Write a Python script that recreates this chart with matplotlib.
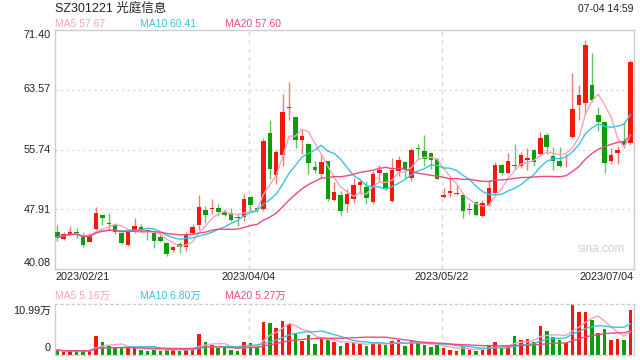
import numpy as np
import pandas as pd
import matplotlib
matplotlib.use("Agg")
import matplotlib.pyplot as plt
import matplotlib.transforms as mtransforms

plt.rcParams['font.family'] = ['Liberation Sans', 'Noto Sans CJK SC', 'DejaVu Sans']

# daily candles, 2023/02/21 .. 2023/07/04 (90 trading days)
opens  = [44.87, 44.00, 44.65, 44.99, 44.30, 43.65, 45.30, 47.13, 46.09, 45.82,
          44.78, 43.26, 44.95, 45.52, 45.20, 44.78, 44.30, 43.47, 42.60, 43.34,
          42.90, 44.78, 45.87, 47.82, 47.91, 48.04, 47.60, 47.39, 46.82, 46.90,
          49.56, 48.13, 47.91, 57.92, 52.39, 55.00, 61.20, 60.00, 57.05, 56.52,
          53.44, 52.48, 54.22, 49.13, 49.78, 48.56, 49.22, 51.04, 50.87, 48.87,
          52.60, 52.70, 49.00, 52.91, 54.09, 52.04, 55.96, 55.50, 55.30, 54.50,
          49.47, 50.00, 49.90, 49.78, 47.80, 48.80, 47.00, 48.46, 49.99, 53.70,
          52.70, 53.75, 53.60, 54.40, 55.70, 55.15, 57.64, 54.90, 54.27, 54.70,
          57.42, 61.57, 61.88, 64.20, 60.26, 59.39, 54.27, 55.30, 56.90, 56.55]
highs  = [45.82, 44.90, 45.65, 45.50, 44.87, 44.78, 48.26, 47.13, 47.48, 46.17,
          44.95, 45.20, 46.82, 45.95, 45.20, 44.87, 44.65, 43.65, 43.13, 43.56,
          44.95, 45.95, 49.74, 48.35, 49.22, 48.56, 48.00, 48.04, 47.48, 49.87,
          49.65, 48.30, 57.26, 59.57, 55.74, 63.05, 64.57, 60.00, 58.48, 56.60,
          54.22, 55.09, 54.22, 51.48, 50.30, 50.52, 52.04, 51.82, 51.60, 52.91,
          53.70, 52.80, 54.65, 54.87, 54.09, 55.96, 56.52, 57.70, 55.40, 54.65,
          50.65, 52.18, 51.10, 50.00, 48.77, 48.90, 49.10, 51.74, 54.14, 53.90,
          55.30, 56.50, 55.45, 55.90, 55.76, 58.00, 57.85, 56.10, 56.10, 55.20,
          65.72, 64.20, 70.09, 68.34, 61.35, 59.40, 55.90, 56.20, 59.30, 67.47]
lows   = [43.78, 43.90, 44.50, 44.20, 43.00, 43.56, 45.20, 45.82, 45.20, 44.65,
          43.39, 43.13, 44.78, 44.87, 43.90, 42.82, 43.56, 41.82, 42.34, 42.17,
          42.47, 44.65, 45.20, 46.17, 47.26, 47.04, 47.04, 46.39, 45.74, 46.39,
          47.69, 47.60, 47.69, 51.91, 51.17, 53.57, 59.57, 55.96, 55.09, 52.48,
          52.70, 52.04, 49.00, 49.00, 47.04, 47.60, 48.78, 49.87, 48.56, 48.56,
          51.60, 50.40, 48.87, 52.26, 52.04, 51.60, 54.65, 53.57, 53.13, 51.82,
          49.34, 49.56, 49.80, 46.72, 47.30, 47.00, 46.90, 48.30, 49.78, 52.40,
          52.60, 53.05, 53.27, 53.05, 53.60, 55.00, 55.20, 53.05, 53.40, 53.50,
          57.30, 59.60, 60.26, 62.00, 58.17, 52.60, 53.90, 53.90, 55.90, 56.30]
closes = [44.21, 44.65, 44.95, 44.78, 43.20, 44.43, 47.39, 46.78, 46.00, 44.95,
          43.47, 45.08, 45.65, 45.20, 45.10, 43.78, 43.69, 42.04, 42.90, 42.90,
          44.65, 45.56, 48.17, 47.17, 48.04, 47.52, 47.17, 46.52, 46.74, 49.22,
          48.48, 47.82, 56.91, 53.13, 55.44, 60.66, 61.30, 56.96, 57.57, 53.91,
          53.00, 54.09, 49.22, 50.17, 47.69, 49.87, 51.04, 51.48, 49.44, 52.48,
          53.00, 50.74, 53.00, 54.30, 53.13, 55.74, 55.87, 54.52, 54.30, 51.90,
          49.78, 50.30, 50.10, 47.72, 47.95, 47.15, 48.70, 50.65, 53.70, 52.60,
          54.27, 53.60, 55.00, 54.60, 54.14, 57.20, 56.10, 54.27, 53.60, 54.80,
          61.05, 62.88, 69.43, 62.23, 59.39, 53.92, 55.00, 55.70, 56.30, 67.25]
# volume, 万 shares
volumes = [1.08, 0.72, 0.93, 0.93, 0.93, 0.93, 4.09, 2.80, 1.94, 1.51,
           1.51, 1.51, 1.44, 1.08, 0.93, 1.22, 0.93, 1.22, 1.22, 0.93,
           1.22, 1.22, 4.53, 2.80, 2.08, 1.51, 1.51, 1.08, 0.86, 2.80,
           2.66, 1.65, 7.11, 6.97, 5.89, 7.33, 6.61, 4.67, 3.02, 4.31,
           2.44, 3.59, 3.23, 2.87, 1.94, 2.66, 2.66, 2.37, 1.94, 2.80,
           2.51, 2.15, 3.02, 3.23, 1.94, 3.23, 2.51, 2.15, 1.72, 2.15,
           1.51, 1.08, 0.86, 1.94, 1.08, 0.86, 1.30, 2.00, 2.87, 1.58,
           2.08, 4.09, 3.23, 3.45, 2.87, 6.25, 5.17, 3.95, 3.23, 2.51,
           10.99, 9.27, 9.27, 7.54, 4.81, 5.60, 3.23, 3.45, 3.23, 9.70]

tick_idx    = [0, 30, 60, 89]
tick_labels = ["2023/02/21", "2023/04/04", "2023/05/22", "2023/07/04"]
price_ticks = [71.40, 63.57, 55.74, 47.91, 40.08]
vol_max     = 10.99

ma_windows  = [5, 10, 20]
ma_last     = ["57.67", "60.41", "57.60"]
vol_ma_last = ["5.16万", "6.80万", "5.27万"]

RED, GREEN = "#f3180c", "#0b9e0b"
RED_WICK, GREEN_WICK = "#f27a70", "#66c466"
MA_COLORS = ["#f7a3c0", "#3cc2e0", "#ee4a80"]
GRID, FRAME, TXT = "#d8d8d8", "#cccccc", "#222222"

W, H = 640, 360
fig = plt.figure(figsize=(6.4, 3.6), dpi=100)
fx = lambda px: px / W
fy = lambda py: 1 - py / H

ax  = fig.add_axes([fx(55), fy(269), (634 - 55) / W, (269 - 30) / H])
axv = fig.add_axes([fx(55), fy(355), (634 - 55) / W, (355 - 304) / H])

df = pd.DataFrame({"o": opens, "h": highs, "l": lows, "c": closes, "v": volumes})
x = np.arange(len(df))
up = df.c >= df.o
body_col = np.where(up, RED, GREEN)
wick_col = np.where(up, RED_WICK, GREEN_WICK)

# candles
ax.vlines(x, df.l, df.h, colors=wick_col, linewidth=1.0, zorder=2)
bottom = np.minimum(df.o, df.c)
height = np.maximum((df.c - df.o).abs(), 0.12)
ax.bar(x, height, bottom=bottom, width=0.7, color=body_col, linewidth=0, zorder=3)

for w, col in zip(ma_windows, MA_COLORS):
    ax.plot(x, df.c.rolling(w, min_periods=1).mean(), color=col, linewidth=1.0, zorder=4)

ax.set_xlim(-0.35, 89.55)
ax.set_ylim(price_ticks[-1], price_ticks[0])
for p in price_ticks[1:-1]:
    ax.axhline(p, color=GRID, linewidth=1.0, linestyle=(0, (1.5, 2.5)), zorder=1)
for i in tick_idx[1:-1]:
    ax.axvline(i - 0.3, color=GRID, linewidth=1.0, linestyle=(0, (3, 3)), zorder=1)
ax.set_xticks([])
ax.set_yticks([])
for s in ax.spines.values():
    s.set_color(FRAME)
    s.set_linewidth(1.0)
ax.text(0.985, 0.085, "sina.com", transform=ax.transAxes, ha="right", va="center",
        fontsize=8.5, color="#d0d0d0")

# volume panel
axv.bar(x, df.v, width=0.55, color=body_col, linewidth=0, zorder=2)
for w, col in zip(ma_windows, MA_COLORS):
    axv.plot(x, df.v.rolling(w, min_periods=1).mean(), color=col, linewidth=1.0, zorder=3)
axv.set_xlim(-0.35, 89.55)
axv.set_ylim(0, vol_max)
for i in tick_idx[1:-1]:
    axv.axvline(i - 0.3, color=GRID, linewidth=1.0, linestyle=(0, (3, 3)), zorder=1)
axv.set_xticks([])
axv.set_yticks([])
for name, s in axv.spines.items():
    s.set_color(FRAME)
    s.set_linewidth(1.0)
    if name in ("top", "bottom"):
        s.set_linestyle((0, (1.5, 2.5)))

# texts
fig.text(fx(55), fy(9), "SZ301221 光庭信息", fontsize=9, color=TXT, va="center", ha="left")
fig.text(fx(634), fy(9), "07-04 14:59", fontsize=7.5, color=TXT, va="center", ha="right")
for px, w, val, col in zip([55, 140, 225], ma_windows, ma_last, MA_COLORS):
    fig.text(fx(px), fy(24), f"MA{w} {val}", fontsize=7.5, color=col, va="center", ha="left")
for px, w, val, col in zip([55, 140, 225], ma_windows, vol_ma_last, MA_COLORS):
    fig.text(fx(px), fy(296), f"MA{w} {val}", fontsize=7.5, color=col, va="center", ha="left")

label_y = [35, 89.5, 149.5, 209.5, 263]
for p, py in zip(price_ticks, label_y):
    fig.text(fx(51), fy(py), f"{p:.2f}", fontsize=7.8, color=TXT, va="center", ha="right")
fig.text(fx(51), fy(311), f"{vol_max:.2f}万", fontsize=7.8, color=TXT, va="center", ha="right")
fig.text(fx(51), fy(348), "0", fontsize=7.8, color=TXT, va="center", ha="right")

trans = mtransforms.blended_transform_factory(ax.transData, fig.transFigure)
for k, (i, lab) in enumerate(zip(tick_idx, tick_labels)):
    if k == 0:
        fig.text(fx(55), fy(277), lab, fontsize=7.8, color=TXT, va="center", ha="left")
    elif k == len(tick_idx) - 1:
        fig.text(fx(634), fy(277), lab, fontsize=7.8, color=TXT, va="center", ha="right")
    else:
        ax.text(i - 0.3, fy(277), lab, transform=trans, fontsize=7.8, color=TXT,
                va="center", ha="center")

fig.savefig("out.png", dpi=100)
